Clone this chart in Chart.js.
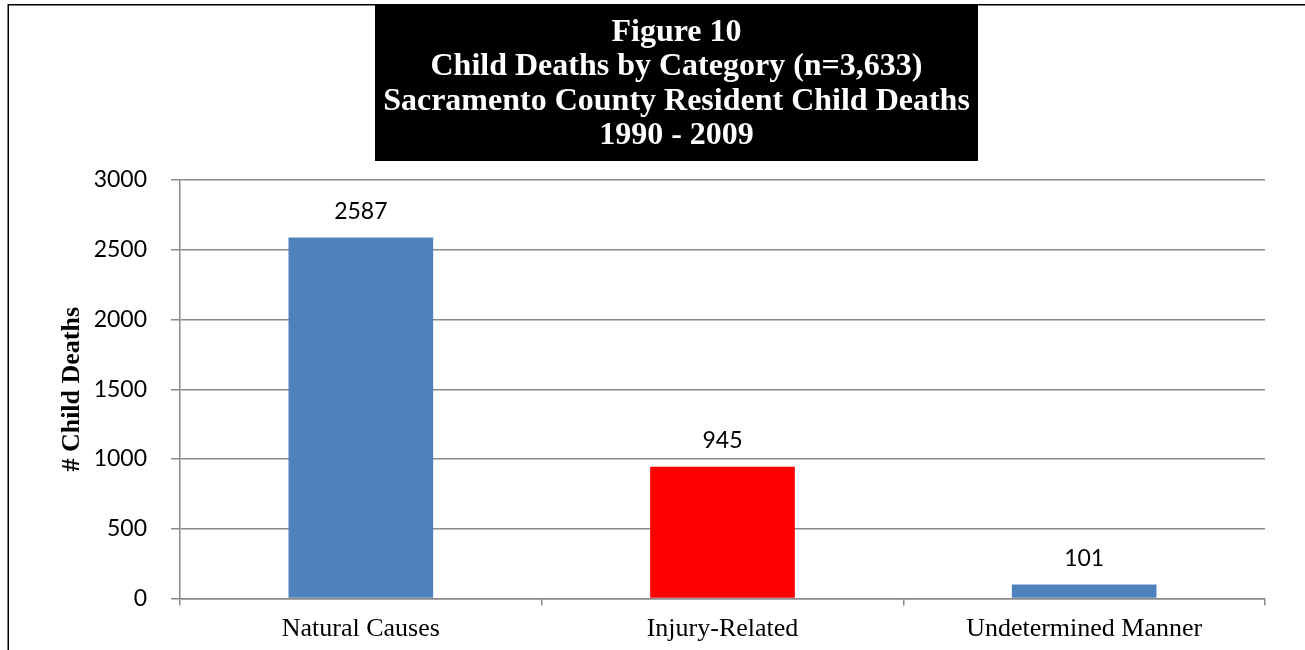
<!DOCTYPE html>
<html>
<head>
<meta charset="utf-8">
<script src="https://cdn.jsdelivr.net/npm/chart.js@4.4.1/dist/chart.umd.min.js"></script>
<style>
  html, body { margin: 0; padding: 0; background: #ffffff; }
  #wrap { width: 1305px; height: 650px; position: relative; }
</style>
</head>
<body>
<div id="wrap"><canvas id="c" width="1305" height="650"></canvas></div>
<script>
// ---- data ----
const categories = ["Natural Causes", "Injury-Related", "Undetermined Manner"];
const childDeaths = [2587, 945, 101];
const yTicks = [0, 500, 1000, 1500, 2000, 2500, 3000];
const titleLines = [
  "Figure 10",
  "Child Deaths by Category (n=3,633)",
  "Sacramento County Resident Child Deaths",
  "1990 - 2009"
];
const yAxisTitle = "# Child Deaths";

// ---- styles ----
const barColors = ["#4F81BD", "#FF0000", "#4F81BD"];
const gridColor = "#8a8a8a";
const SANS = "Lato, 'Open Sans', sans-serif";
const SERIF = "'Liberation Serif', 'Times New Roman', serif";

const framePlugin = {
  id: "frame",
  beforeDraw(chart) {
    const ctx = chart.ctx;
    ctx.save();
    ctx.fillStyle = "#ffffff";
    ctx.fillRect(0, 0, chart.width, chart.height);
    // title box
    ctx.fillStyle = "#000000";
    ctx.fillRect(375, 5, 603, 156);
    ctx.fillStyle = "#ffffff";
    ctx.font = "bold 32px " + SERIF;
    ctx.textAlign = "center";
    ctx.textBaseline = "alphabetic";
    const cx = 676.5;
    const base0 = 41, step = 34.3;
    titleLines.forEach((t, i) => ctx.fillText(t, cx, base0 + i * step));
    // outer frame
    ctx.strokeStyle = "#000000";
    ctx.lineWidth = 1.5;
    ctx.strokeRect(8.25, 4.75, 1400, 800);
    ctx.restore();
  }
};

const labelPlugin = {
  id: "barLabels",
  afterDatasetsDraw(chart) {
    const ctx = chart.ctx;
    const meta = chart.getDatasetMeta(0);
    ctx.save();
    ctx.fillStyle = "#000000";
    ctx.font = "23px " + SANS;
    ctx.textAlign = "center";
    ctx.textBaseline = "alphabetic";
    meta.data.forEach((bar, i) => {
      ctx.fillText(String(chart.data.datasets[0].data[i]), bar.x, bar.y - 18.5);
    });
    ctx.restore();
  }
};

new Chart(document.getElementById("c"), {
  type: "bar",
  data: {
    labels: categories,
    datasets: [{
      data: childDeaths,
      backgroundColor: barColors,
      borderWidth: 0,
      barPercentage: 0.4,
      categoryPercentage: 1.0
    }]
  },
  options: {
    responsive: false,
    animation: false,
    layout: { padding: { top: 180, right: 40, left: 0, bottom: 0 } },
    plugins: {
      legend: { display: false },
      title: { display: false },
      tooltip: { enabled: false }
    },
    scales: {
      x: {
        offset: true,
        afterFit(scale) { scale.height = 51.5; },
        grid: {
          offset: true,
          drawOnChartArea: false,
          drawTicks: true,
          tickLength: 7,
          color: gridColor,
          lineWidth: 1.5
        },
        border: { display: true, color: gridColor, width: 1.5 },
        ticks: {
          color: "#000000",
          padding: 8,
          font: { family: SERIF, size: 26 },
          maxRotation: 0,
          autoSkip: false
        }
      },
      y: {
        min: yTicks[0],
        max: yTicks[yTicks.length - 1],
        afterFit(scale) { scale.width = 180; },
        afterBuildTicks(scale) { scale.ticks = yTicks.map(v => ({ value: v })); },
        grid: {
          drawOnChartArea: true,
          drawTicks: true,
          tickLength: 9,
          color: gridColor,
          lineWidth: 1.5
        },
        border: { display: true, color: gridColor, width: 1.5 },
        ticks: {
          color: "#000000",
          padding: 24,
          font: { family: SANS, size: 23 },
          callback: (v) => String(v)
        },
        title: {
          display: true,
          text: yAxisTitle,
          color: "#000000",
          font: { family: SERIF, size: 26, weight: "bold" },
          padding: { top: 57, bottom: 0 }
        }
      }
    }
  },
  plugins: [framePlugin, labelPlugin]
});
</script>
</body>
</html>
